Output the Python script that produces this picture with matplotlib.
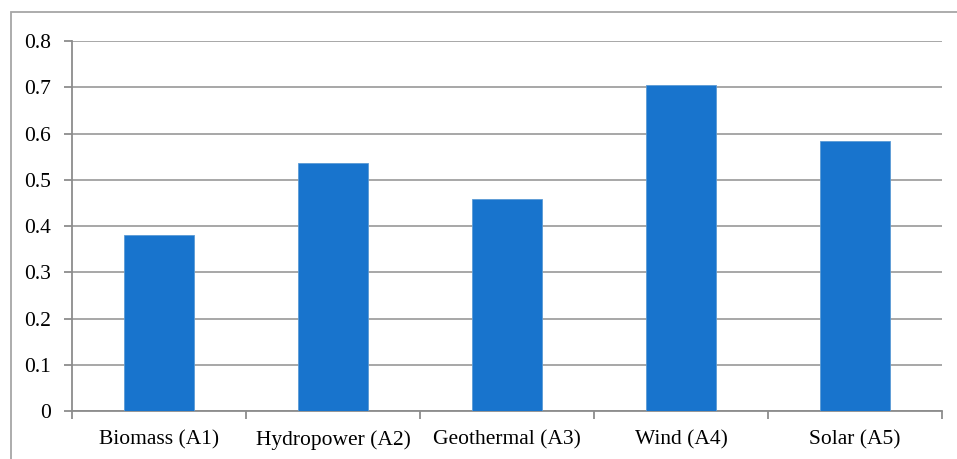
import matplotlib
matplotlib.use("Agg")
import matplotlib.pyplot as plt
from matplotlib.patches import Rectangle
import numpy as np

# data
categories = ["Biomass (A1)", "Hydropower (A2)", "Geothermal (A3)", "Wind (A4)", "Solar (A5)"]
values = [0.381, 0.537, 0.459, 0.705, 0.584]
yticks = [0, 0.1, 0.2, 0.3, 0.4, 0.5, 0.6, 0.7, 0.8]
ytick_labels = ["0", "0.1", "0.2", "0.3", "0.4", "0.5", "0.6", "0.7", "0.8"]

plt.rcParams["font.family"] = ["Liberation Serif", "DejaVu Serif"]

fig = plt.figure(figsize=(9.57, 4.59), dpi=100)
ax = fig.add_axes([72/957, 1-411/459, 870/957, 370/459])

# outer chart frame (open on right/bottom like the crop)
fig.patches.append(Rectangle((11/957, -0.1), 1.2, 1-12/459+0.1, transform=fig.transFigure,
                             fill=False, edgecolor="#a6a6a6", linewidth=1.3, clip_on=False))

x = np.arange(len(categories))
ax.bar(x, values, width=0.4, color="#1874cd", edgecolor="#5b9bd5", linewidth=0.6, zorder=3)

ax.set_xlim(-0.5, len(categories)-0.5)
ax.set_ylim(0, 0.8)
ax.set_yticks(yticks)
ax.set_yticklabels(ytick_labels, fontsize=15.5)
ax.set_xticks(x)
ax.set_xticklabels(categories, fontsize=15.5)
ax.set_xticks(np.arange(len(categories)+1)-0.5, minor=True)

ax.grid(axis="y", color="#a0a0a0", linewidth=1.3, zorder=0)
for s in ["top", "right"]:
    ax.spines[s].set_visible(False)
for s in ["left", "bottom"]:
    ax.spines[s].set_color("#8c8c8c")
    ax.spines[s].set_linewidth(1.3)

ax.tick_params(axis="y", length=6, width=1.3, color="#8c8c8c", pad=9)
ax.tick_params(axis="x", which="major", length=0, pad=14)
ax.tick_params(axis="x", which="minor", length=6, width=1.3, color="#8c8c8c")

fig.savefig("out.png", dpi=100)
